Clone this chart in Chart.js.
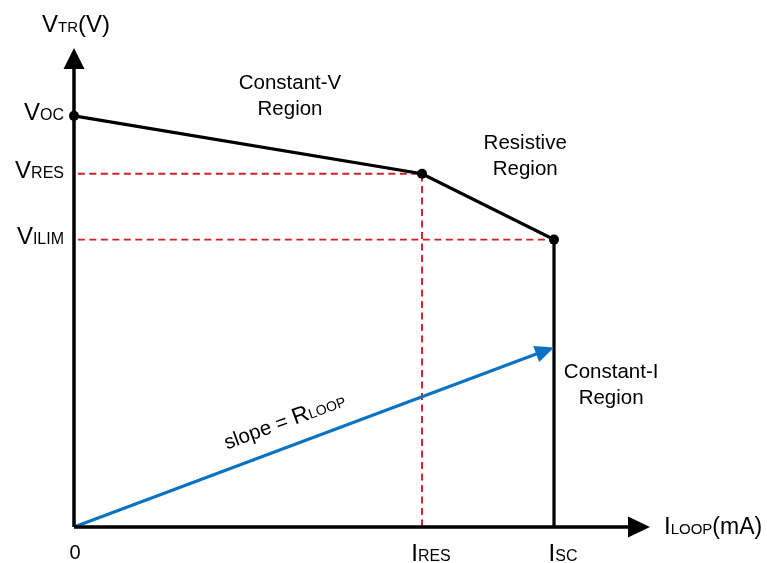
<!DOCTYPE html>
<html>
<head>
<meta charset="utf-8">
<script src="https://cdn.jsdelivr.net/npm/chart.js@4.4.0/dist/chart.umd.min.js"></script>
<style>
  html, body { margin: 0; padding: 0; background: #fff; }
  canvas { display: block; }
</style>
</head>
<body>
<canvas id="chart" width="767" height="563"></canvas>
<script>
// operating points: 0, I_RES, I_SC  /  V_OC, V_RES, V_ILIM
const currents = [0, 7.25, 10];
const voltages = [10.3, 8.85, 7.2];
const loopEnd = [10, 4.5];   // end of the R_LOOP load line
const axisMax = [12, 12];

const xTicks = [['0', ''], ['I', 'RES'], ['I', 'SC']];
const yTicks = [['V', 'OC'], ['V', 'RES'], ['V', 'ILIM']];
const xTitle = ['I', 'LOOP', '(mA)'];
const yTitle = ['V', 'TR', '(V)'];
const regionText = [['Constant-V', 'Region'], ['Resistive', 'Region'], ['Constant-I', 'Region']];
const regionAt = [[4.5, 10.97], [9.4, 9.47], [11.19, 3.73]];
const slopeText = ['slope = ', 'R', 'LOOP'];

const FONT = "'Liberation Sans', Arial, sans-serif";
const RED = '#d0202a';
const BLUE = '#0a72c2';

// draw text made of [string, size] pieces on one baseline
function rich(ctx, parts, x, y, align) {
  let w = 0;
  parts.forEach(p => { ctx.font = p[1] + 'px ' + FONT; w += ctx.measureText(p[0]).width; });
  let cx = align === 'right' ? x - w : align === 'center' ? x - w / 2 : x;
  ctx.textAlign = 'left';
  ctx.textBaseline = 'alphabetic';
  parts.forEach(p => {
    ctx.font = p[1] + 'px ' + FONT;
    ctx.fillText(p[0], cx, y);
    cx += ctx.measureText(p[0]).width;
  });
}

function arrowHead(ctx, x, y, ang, len, half) {
  ctx.save();
  ctx.translate(x, y);
  ctx.rotate(ang);
  ctx.beginPath();
  ctx.moveTo(0, 0);
  ctx.lineTo(-len, -half);
  ctx.lineTo(-len, half);
  ctx.closePath();
  ctx.fill();
  ctx.restore();
}

const diagram = {
  id: 'diagram',
  afterDatasetsDraw(chart) {
    const ctx = chart.ctx;
    const xs = chart.scales.x, ys = chart.scales.y;
    const x0 = xs.getPixelForValue(0), y0 = ys.getPixelForValue(0);
    const xEnd = xs.getPixelForValue(axisMax[0]), yEnd = ys.getPixelForValue(axisMax[1]);
    ctx.save();

    // axes with arrows
    ctx.strokeStyle = '#000';
    ctx.fillStyle = '#000';
    ctx.lineWidth = 3.5;
    ctx.beginPath();
    ctx.moveTo(x0, y0); ctx.lineTo(xEnd - 18, y0);
    ctx.moveTo(x0, y0); ctx.lineTo(x0, yEnd + 18);
    ctx.stroke();
    arrowHead(ctx, xEnd, y0, 0, 22, 10.5);
    arrowHead(ctx, x0, yEnd, -Math.PI / 2, 21, 10.5);

    // blue arrow head at the load line end
    const bx = xs.getPixelForValue(loopEnd[0]), by = ys.getPixelForValue(loopEnd[1]);
    const ang = Math.atan2(by - y0, bx - x0);
    ctx.fillStyle = BLUE;
    arrowHead(ctx, bx, by, ang, 19, 8.5);

    ctx.fillStyle = '#000';
    // y tick labels
    yTicks.forEach((t, i) => {
      rich(ctx, [[t[0], 24], [t[1], 16]], x0 - 10, ys.getPixelForValue(voltages[i]) + 4, 'right');
    });
    // x tick labels
    xTicks.forEach((t, i) => {
      const px = xs.getPixelForValue(currents[i]);
      if (i === 0) rich(ctx, [[t[0], 20]], px + 1, 559, 'center');
      else rich(ctx, [[t[0], 24], [t[1], 16]], px + 9, 561, 'center');
    });
    // axis titles
    rich(ctx, [[xTitle[0], 24], [xTitle[1], 15], [xTitle[2], 23]], xEnd + 14, y0 + 7, 'left');
    rich(ctx, [[yTitle[0], 24], [yTitle[1], 15], [yTitle[2], 24]], x0 + 2, 32, 'center');

    // region labels
    regionText.forEach((lines, i) => {
      const px = xs.getPixelForValue(regionAt[i][0]);
      const py = ys.getPixelForValue(regionAt[i][1]);
      lines.forEach((l, k) => rich(ctx, [[l, 20.5]], px, py + k * 26, 'center'));
    });

    // slope label along the load line
    ctx.translate(xs.getPixelForValue(4.38), ys.getPixelForValue(2.68));
    ctx.rotate(-20 * Math.PI / 180);
    rich(ctx, [[slopeText[0], 20.5], [slopeText[1], 23], [slopeText[2], 14]], 0, 8, 'center');

    ctx.restore();
  }
};

const curve = currents.map((c, i) => ({ x: c, y: voltages[i] }));
curve.push({ x: currents[2], y: 0 });

new Chart(document.getElementById('chart').getContext('2d'), {
  type: 'scatter',
  data: {
    datasets: [
      {
        data: curve,
        showLine: true,
        borderColor: '#000',
        backgroundColor: '#000',
        borderWidth: 3.2,
        pointRadius: [5, 5, 5, 0],
        pointBorderWidth: 0,
        clip: false,
        order: 1
      },
      {
        data: [{ x: 0, y: 0 }, { x: loopEnd[0] - 0.3, y: loopEnd[1] - 0.3 * loopEnd[1] / loopEnd[0] }],
        showLine: true,
        borderColor: BLUE,
        borderWidth: 3,
        pointRadius: 0,
        clip: false,
        order: 2
      },
      {
        data: [{ x: 0.08, y: voltages[1] }, { x: currents[1], y: voltages[1] }, { x: currents[1], y: 0 }],
        showLine: true,
        borderColor: RED,
        borderWidth: 1.9,
        borderDash: [7, 4.5],
        pointRadius: 0,
        clip: false,
        order: 3
      },
      {
        data: [{ x: 0.08, y: voltages[2] }, { x: currents[2], y: voltages[2] }],
        showLine: true,
        borderColor: RED,
        borderWidth: 1.9,
        borderDash: [7, 4.5],
        pointRadius: 0,
        clip: false,
        order: 3
      }
    ]
  },
  options: {
    responsive: false,
    animation: false,
    devicePixelRatio: 1,
    layout: { padding: { left: 74, right: 117, top: 48, bottom: 36 } },
    plugins: { legend: { display: false }, tooltip: { enabled: false } },
    scales: {
      x: { type: 'linear', min: 0, max: axisMax[0], display: false },
      y: { type: 'linear', min: 0, max: axisMax[1], display: false }
    }
  },
  plugins: [diagram]
});
</script>
</body>
</html>
